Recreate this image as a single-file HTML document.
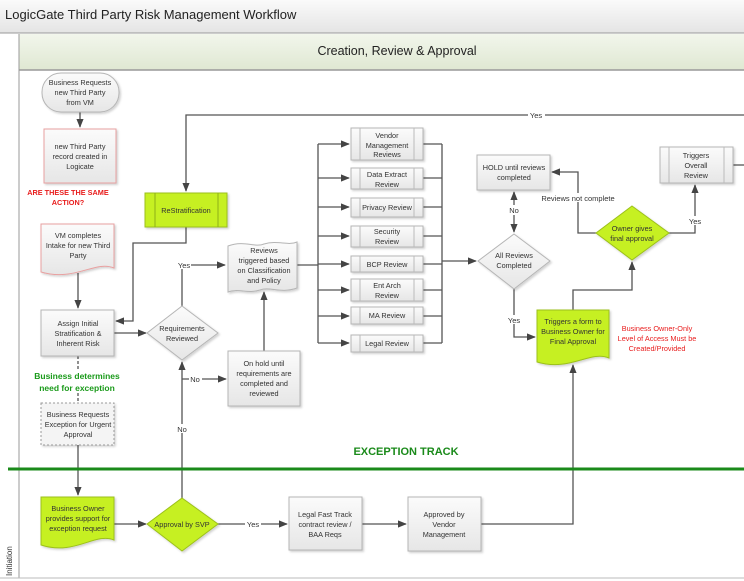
<!DOCTYPE html>
<html><head><meta charset="utf-8"><style>
html,body{margin:0;padding:0;background:#fff;}
svg{display:block;font-family:"Liberation Sans",sans-serif;}
</style></head><body>
<svg width="744" height="581" viewBox="0 0 744 581" xmlns="http://www.w3.org/2000/svg">
<defs>
<linearGradient id="tb" x1="0" y1="0" x2="0" y2="1"><stop offset="0" stop-color="#fafafa"/><stop offset="1" stop-color="#e4e4e4"/></linearGradient>
<linearGradient id="hd" x1="0" y1="0" x2="0" y2="1"><stop offset="0" stop-color="#f2f6ec"/><stop offset="1" stop-color="#dfe8d2"/></linearGradient>
<linearGradient id="bx" x1="0" y1="0" x2="0" y2="1"><stop offset="0" stop-color="#fbfbfb"/><stop offset="1" stop-color="#e6e6e6"/></linearGradient>
<marker id="a" viewBox="0 0 10 10" refX="9" refY="5" markerWidth="7" markerHeight="7" orient="auto"><path d="M0,1 L10,5 L0,9z" fill="#444"/></marker>
<filter id="sh" x="-10%" y="-10%" width="130%" height="130%"><feDropShadow dx="1.5" dy="1.5" stdDeviation="1" flood-color="#000" flood-opacity="0.18"/></filter>
</defs>
<!-- title -->
<rect x="0" y="0" width="744" height="33" fill="url(#tb)"/>
<line x1="0" y1="33" x2="744" y2="33" stroke="#999"/>
<text x="5" y="19" font-size="13" fill="#222">LogicGate Third Party Risk Management Workflow</text>
<!-- lane -->
<rect x="19" y="34" width="725" height="36" fill="url(#hd)"/>
<line x1="19" y1="70" x2="744" y2="70" stroke="#999" stroke-width="1.5"/>
<line x1="19" y1="34" x2="19" y2="578" stroke="#999"/>
<line x1="0" y1="578" x2="744" y2="578" stroke="#bbb"/>
<text x="397" y="55" font-size="12.5" fill="#222" text-anchor="middle">Creation, Review &amp; Approval</text>
<text transform="translate(12,576) rotate(-90)" font-size="8" fill="#333">Initiation</text>

<g fill="none" stroke="#555" stroke-width="1.3">
<!-- top yes loop -->
<path d="M744,115 H186 V191" marker-end="url(#a)"/>
<path d="M80,112 V127" marker-end="url(#a)"/>
<path d="M186,227 V243 H133 V321 H116" marker-end="url(#a)"/>
<path d="M78,273 V308" marker-end="url(#a)"/>
<path d="M114,333 H146" marker-end="url(#a)"/>
<path d="M182,306 V265 H225" marker-end="url(#a)"/>
<path d="M182,498 V362" marker-end="url(#a)"/>
<path d="M182,379 H226" marker-end="url(#a)"/>
<path d="M264,351 V292" marker-end="url(#a)"/>
<path d="M297,265 H318"/>
<path d="M318,144 V343"/>
<path d="M318,144 H349" marker-end="url(#a)"/>
<path d="M318,178 H349" marker-end="url(#a)"/>
<path d="M318,207 H349" marker-end="url(#a)"/>
<path d="M318,236 H349" marker-end="url(#a)"/>
<path d="M318,264 H349" marker-end="url(#a)"/>
<path d="M318,290 H349" marker-end="url(#a)"/>
<path d="M318,316 H349" marker-end="url(#a)"/>
<path d="M318,343 H349" marker-end="url(#a)"/>
<path d="M423,144 H442 M423,178 H442 M423,207 H442 M423,236 H442 M423,264 H442 M423,290 H442 M423,316 H442 M423,343 H442"/>
<path d="M442,144 V343"/>
<path d="M442,261 H476" marker-end="url(#a)"/>
<path d="M514,289 V337 H535" marker-end="url(#a)"/>
<path d="M514,212 V192" marker-end="url(#a)"/>
<path d="M514,210 V232" marker-end="url(#a)"/>
<path d="M573,310 V290 H632 V262" marker-end="url(#a)"/>
<path d="M596,233 H578 V172 H552" marker-end="url(#a)"/>
<path d="M669,233 H695 V185" marker-end="url(#a)"/>
<path d="M733,165 H744"/>
<path d="M78,445 V495" marker-end="url(#a)"/>
<path d="M114,524 H146" marker-end="url(#a)"/>
<path d="M218,524 H287" marker-end="url(#a)"/>
<path d="M362,524 H406" marker-end="url(#a)"/>
<path d="M481,524 H573 V365" marker-end="url(#a)"/>
<path d="M78,356 V370 M78,393 V401" stroke-dasharray="3,2"/>
</g>
<!-- exception line -->
<line x1="8" y1="469" x2="744" y2="469" stroke="#1a8a1a" stroke-width="3"/>
<text x="406" y="455" font-size="11" font-weight="bold" fill="#1a8a1a" text-anchor="middle">EXCEPTION TRACK</text>

<!-- labels on lines -->
<g font-size="7.5" fill="#333" text-anchor="middle">
<rect x="528" y="110" width="17" height="9" fill="#fff"/><text x="536" y="118">Yes</text>
<rect x="177" y="260" width="14" height="9" fill="#fff"/><text x="184" y="268">Yes</text>
<rect x="189" y="374" width="13" height="9" fill="#fff"/><text x="195" y="382">No</text>
<rect x="176" y="424" width="13" height="9" fill="#fff"/><text x="182" y="432">No</text>
<rect x="245" y="519" width="16" height="9" fill="#fff"/><text x="253" y="527">Yes</text>
<rect x="507" y="205" width="14" height="10" fill="#fff"/><text x="514" y="213">No</text>
<rect x="506" y="315" width="16" height="9" fill="#fff"/><text x="514" y="323">Yes</text>
<rect x="540" y="193" width="78" height="9" fill="#fff"/><text x="578" y="201">Reviews not complete</text>
<rect x="687" y="216" width="16" height="9" fill="#fff"/><text x="695" y="224">Yes</text>
</g>

<!-- nodes -->
<g stroke="#b5b5b5" stroke-width="1" filter="url(#sh)">
<rect x="42" y="73" width="77" height="39" rx="19" fill="url(#bx)"/>
<rect x="44" y="129" width="72" height="54" fill="url(#bx)" stroke="#e8a0a0"/>
<path d="M41,224 H114 V268 C95,260 75,282 41,272 Z" fill="url(#bx)" stroke="#e8a0a0"/>
<rect x="145" y="193" width="82" height="34" fill="#c6f024" stroke="#9cc01a"/>
<rect x="41" y="310" width="73" height="46" fill="url(#bx)"/>
<path d="M182,306 L218,333 L182,360 L147,333 Z" fill="url(#bx)"/>
<path d="M228,246 C245,240 255,248 264,244 C278,240 288,246 297,242 V288 C280,294 270,286 260,290 C248,294 238,288 228,292 Z" fill="url(#bx)"/>
<rect x="228" y="351" width="72" height="55" fill="url(#bx)"/>
<rect x="41" y="403" width="73" height="42" fill="#f4f4f4" stroke="#999" stroke-dasharray="2,2"/>
<path d="M41,497 H114 V540 C95,532 75,556 41,545 Z" fill="#c6f024" stroke="#9cc01a"/>
<path d="M182,498 L218,524 L182,551 L147,524 Z" fill="#c6f024" stroke="#9cc01a"/>
<rect x="289" y="497" width="73" height="53" fill="url(#bx)"/>
<rect x="408" y="497" width="73" height="54" fill="url(#bx)"/>
<rect x="351" y="128" width="72" height="32" fill="url(#bx)"/>
<rect x="351" y="168" width="72" height="21" fill="url(#bx)"/>
<rect x="351" y="198" width="72" height="19" fill="url(#bx)"/>
<rect x="351" y="226" width="72" height="21" fill="url(#bx)"/>
<rect x="351" y="256" width="72" height="16" fill="url(#bx)"/>
<rect x="351" y="279" width="72" height="22" fill="url(#bx)"/>
<rect x="351" y="307" width="72" height="17" fill="url(#bx)"/>
<rect x="351" y="335" width="72" height="17" fill="url(#bx)"/>
<path d="M514,234 L550,261 L514,289 L478,261 Z" fill="url(#bx)"/>
<rect x="477" y="155" width="73" height="35" fill="url(#bx)"/>
<path d="M537,310 H609 V358 C590,350 570,372 537,362 Z" fill="#c6f024" stroke="#9cc01a"/>
<path d="M632,206 L669,233 L632,260 L596,233 Z" fill="#c6f024" stroke="#9cc01a"/>
<rect x="660" y="147" width="73" height="36" fill="url(#bx)"/>
</g>
<!-- inner vertical lines of process boxes -->
<g stroke="#bbb" stroke-width="1">
<path d="M155,193 V227 M218,193 V227" stroke="#8fb018"/>
<path d="M360,128 V160 M414,128 V160 M360,168 V189 M414,168 V189 M360,198 V217 M414,198 V217 M360,226 V247 M414,226 V247 M360,256 V272 M414,256 V272 M360,279 V301 M414,279 V301 M360,307 V324 M414,307 V324 M360,335 V352 M414,335 V352"/>
<path d="M669,147 V183 M724,147 V183"/>
</g>

<!-- node text -->
<g font-size="7.3" fill="#333" text-anchor="middle">
<text x="80" y="85">Business Requests</text><text x="80" y="95">new Third Party</text><text x="80" y="105">from VM</text>
<text x="80" y="149">new Third Party</text><text x="80" y="159">record created in</text><text x="80" y="169">Logicate</text>
<text x="78" y="238">VM completes</text><text x="78" y="248">Intake for new Third</text><text x="78" y="258">Party</text>
<text x="186" y="213">ReStratification</text>
<text x="78" y="326">Assign Initial</text><text x="78" y="336">Stratification &amp;</text><text x="78" y="346">Inherent Risk</text>
<text x="182" y="331">Requirements</text><text x="182" y="341">Reviewed</text>
<text x="264" y="253">Reviews</text><text x="264" y="263">triggered based</text><text x="264" y="273">on Classification</text><text x="264" y="283">and Policy</text>
<text x="264" y="366">On hold until</text><text x="264" y="376">requirements are</text><text x="264" y="386">completed and</text><text x="264" y="396">reviewed</text>
<text x="78" y="417">Business Requests</text><text x="78" y="427">Exception for Urgent</text><text x="78" y="437">Approval</text>
<text x="78" y="511">Business Owner</text><text x="78" y="521">provides support for</text><text x="78" y="531">exception request</text>
<text x="182" y="527">Approval by SVP</text>
<text x="325" y="517">Legal Fast Track</text><text x="325" y="527">contract review /</text><text x="325" y="537">BAA Reqs</text>
<text x="444" y="517">Approved by</text><text x="444" y="527">Vendor</text><text x="444" y="537">Management</text>
<text x="387" y="138">Vendor</text><text x="387" y="148">Management</text><text x="387" y="157">Reviews</text>
<text x="387" y="177">Data Extract</text><text x="387" y="187">Review</text>
<text x="387" y="210">Privacy Review</text>
<text x="387" y="234">Security</text><text x="387" y="244">Review</text>
<text x="387" y="267">BCP Review</text>
<text x="387" y="288">Ent Arch</text><text x="387" y="298">Review</text>
<text x="387" y="318">MA Review</text>
<text x="387" y="346">Legal Review</text>
<text x="514" y="258">All Reviews</text><text x="514" y="268">Completed</text>
<text x="514" y="170">HOLD until reviews</text><text x="514" y="180">completed</text>
<text x="573" y="324">Triggers a form to</text><text x="573" y="334">Business Owner for</text><text x="573" y="344">Final Approval</text>
<text x="632" y="231">Owner gives</text><text x="632" y="241">final approval</text>
<text x="696" y="158">Triggers</text><text x="696" y="168">Overall</text><text x="696" y="178">Review</text>
</g>
<g font-size="7.3" font-weight="bold" fill="#e81c1c" text-anchor="middle">
<text x="68" y="195">ARE THESE THE SAME</text><text x="68" y="205">ACTION?</text>
</g>
<g font-size="8.5" font-weight="bold" fill="#1a9a1a" text-anchor="middle">
<text x="77" y="379">Business determines</text><text x="77" y="391">need for exception</text>
</g>
<g font-size="7.3" fill="#e81c1c" text-anchor="middle">
<text x="657" y="331">Business Owner-Only</text><text x="657" y="341">Level of Access Must be</text><text x="657" y="351">Created/Provided</text>
</g>
</svg>
</body></html>
